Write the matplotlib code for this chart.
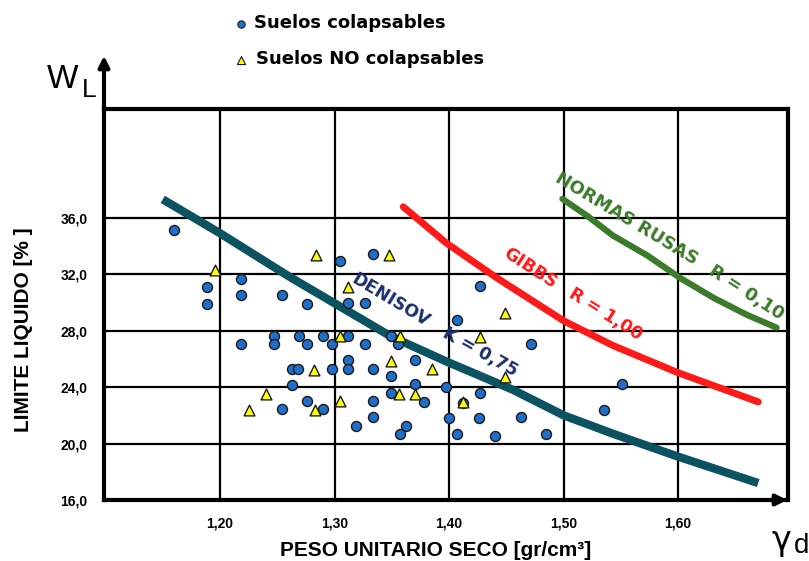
import matplotlib
matplotlib.use("Agg")
import matplotlib.pyplot as plt

# liquid limit vs dry unit weight, collapsible / non collapsible soils
colaps_x = [1.160, 1.218, 1.189, 1.218, 1.254, 1.189, 1.334, 1.305, 1.276, 1.312,
            1.327, 1.269, 1.290, 1.312, 1.349, 1.276, 1.298, 1.327, 1.355, 1.312,
            1.370, 1.263, 1.268, 1.298, 1.312, 1.334, 1.349, 1.263, 1.370, 1.349,
            1.378, 1.276, 1.334, 1.290, 1.334, 1.319, 1.362, 1.357, 1.247, 1.218,
            1.247, 1.254, 1.397, 1.427, 1.412, 1.400, 1.426, 1.463, 1.407, 1.440,
            1.485, 1.535, 1.551, 1.427, 1.407, 1.472]
colaps_y = [35.16, 31.67, 31.09, 30.50, 30.50, 29.90, 33.42, 32.90, 29.90, 29.96,
            29.96, 27.63, 27.63, 27.63, 27.63, 27.04, 27.04, 27.04, 27.04, 25.94,
            25.94, 25.29, 25.29, 25.29, 25.29, 25.29, 24.75, 24.16, 24.19, 23.58,
            22.95, 23.02, 23.02, 22.48, 21.89, 21.26, 21.26, 20.68, 27.63, 27.04,
            27.04, 22.48, 24.00, 23.58, 22.85, 21.82, 21.82, 21.85, 20.68, 20.54,
            20.68, 22.41, 24.19, 31.14, 28.72, 27.04]

nocol_x = [1.196, 1.284, 1.348, 1.312, 1.305, 1.357, 1.349, 1.282, 1.385, 1.356,
           1.370, 1.305, 1.283, 1.240, 1.225, 1.412, 1.449, 1.449, 1.427]
nocol_y = [32.30, 33.35, 33.35, 31.07, 27.63, 27.63, 25.87, 25.24, 25.29, 23.53,
           23.53, 23.02, 22.36, 23.53, 22.41, 22.95, 24.70, 29.26, 27.56]

# limit curves
denisov_x = [1.150, 1.200, 1.261, 1.349, 1.398, 1.456, 1.500, 1.543, 1.599, 1.670]
denisov_y = [37.3, 34.9, 31.8, 27.6, 25.8, 23.8, 22.0, 20.7, 19.1, 17.2]
gibbs_x = [1.360, 1.398, 1.442, 1.500, 1.543, 1.599, 1.670]
gibbs_y = [36.77, 34.18, 31.72, 28.70, 26.95, 25.05, 22.95]
rusas_x = [1.499, 1.5205, 1.543, 1.573, 1.602, 1.631, 1.660, 1.686]
rusas_y = [37.33, 36.14, 34.74, 33.33, 31.72, 30.32, 29.12, 28.21]

x_ticks = [1.20, 1.30, 1.40, 1.50, 1.60]
x_labels = ["1,20", "1,30", "1,40", "1,50", "1,60"]
y_ticks = [16, 20, 24, 28, 32, 36]
y_labels = ["16,0", "20,0", "24,0", "28,0", "32,0", "36,0"]

W, H = 809, 561
fig = plt.figure(figsize=(W / 100, H / 100), dpi=100)
ax = fig.add_axes([104 / W, 1 - 500 / H, (788 - 104) / W, (500 - 109) / H])

ax.set_xlim(1.0987, 1.696)
ax.set_ylim(16, 43.7)

for xv in x_ticks:
    ax.axvline(xv, color="black", lw=1.6, zorder=1)
for yv in y_ticks[1:]:
    ax.axhline(yv, color="black", lw=1.6, zorder=1)

for side in ["left", "right", "top", "bottom"]:
    ax.spines[side].set_linewidth(3)
    ax.spines[side].set_zorder(5)

ax.set_xticks(x_ticks)
ax.set_xticklabels(x_labels)
ax.set_yticks(y_ticks)
ax.set_yticklabels(y_labels)
ax.tick_params(length=0, pad=12)
for lab in ax.get_xticklabels() + ax.get_yticklabels():
    lab.set_fontfamily("Liberation Sans")
    lab.set_fontweight("bold")
    lab.set_fontsize(10)

ax.plot(denisov_x, denisov_y, color="#0c5362", lw=6, solid_capstyle="butt", zorder=3)
ax.plot(gibbs_x, gibbs_y, color="#ff1a1a", lw=5, solid_capstyle="round", zorder=3)
ax.plot(rusas_x, rusas_y, color="#3c7a2c", lw=4.5, solid_capstyle="round", zorder=3)

ax.scatter(colaps_x, colaps_y, s=52, color="#1f6fc8", edgecolor="#1a1a1a", lw=1.0, zorder=4)
ax.scatter(nocol_x, nocol_y, s=60, marker="^", color="#ffff00", edgecolor="#1a1a1a",
           lw=1.0, zorder=4)

# curve labels
lab_kw = dict(fontfamily="DejaVu Sans", fontweight="bold", ha="center", va="center",
              rotation_mode="anchor", zorder=6)
ax.text(1.349, 30.18, "DENISOV", color="#1b2f6e", fontsize=12.5, rotation=-31, **lab_kw)
ax.text(1.427, 26.46, "K = 0,75", color="#1b2f6e", fontsize=12.5, rotation=-29, **lab_kw)
ax.text(1.4707, 32.42, "GIBBS", color="#ff1a1a", fontsize=12.5, rotation=-33, **lab_kw)
ax.text(1.537, 29.19, "R = 1,00", color="#ff1a1a", fontsize=12.5, rotation=-32, **lab_kw)
ax.text(1.5546, 35.93, "NORMAS RUSAS", color="#3c7a2c", fontsize=13, rotation=-31, **lab_kw)
ax.text(1.6594, 30.67, "R = 0,10", color="#3c7a2c", fontsize=13, rotation=-33, **lab_kw)

# axis arrows
ax.annotate("", xy=(0, 1 + 56 / 391), xytext=(0, 0.99), xycoords="axes fraction",
            arrowprops=dict(arrowstyle="-|>", lw=3, color="black", mutation_scale=16),
            annotation_clip=False)
ax.annotate("", xy=(1.003, 0), xytext=(0.97, 0), xycoords="axes fraction",
            arrowprops=dict(arrowstyle="-|>", lw=3, color="black", mutation_scale=16),
            annotation_clip=False)

ax.set_xlabel("PESO UNITARIO SECO [gr/cm³]", fontfamily="Liberation Sans",
              fontweight="bold", fontsize=15)
ax.xaxis.set_label_coords(0.485, -0.104)
ax.set_ylabel("LIMITE LIQUIDO [% ]", fontfamily="Liberation Sans", fontweight="bold",
              fontsize=15)
ax.yaxis.set_label_coords(-0.104, 0.435)

# legend drawn by hand above the frame
lx = fig.add_axes([0, 0, 1, 1], facecolor="none")
lx.set_xlim(0, W)
lx.set_ylim(H, 0)
lx.axis("off")
lx.scatter([241], [24], s=28, color="#1f6fc8", edgecolor="#1a1a1a", lw=0.8)
lx.scatter([241], [60], s=34, marker="^", color="#ffff00", edgecolor="#1a1a1a", lw=0.8)
lx.text(254, 23, "Suelos colapsables", fontfamily="DejaVu Sans", fontweight="bold",
        fontsize=13, va="center")
lx.text(256, 59, "Suelos NO colapsables", fontfamily="DejaVu Sans", fontweight="bold",
        fontsize=13, va="center")

# axis symbols
lx.text(47, 88, "W", fontfamily="Liberation Sans", fontsize=24, va="baseline")
lx.text(82, 97, "L", fontfamily="Liberation Sans", fontsize=19, va="baseline")
lx.text(772, 550, "γ", fontfamily="DejaVu Sans", fontsize=24, va="baseline")
lx.text(794, 553, "d", fontfamily="Liberation Sans", fontsize=20, va="baseline")

fig.savefig("out.png", dpi=100)
